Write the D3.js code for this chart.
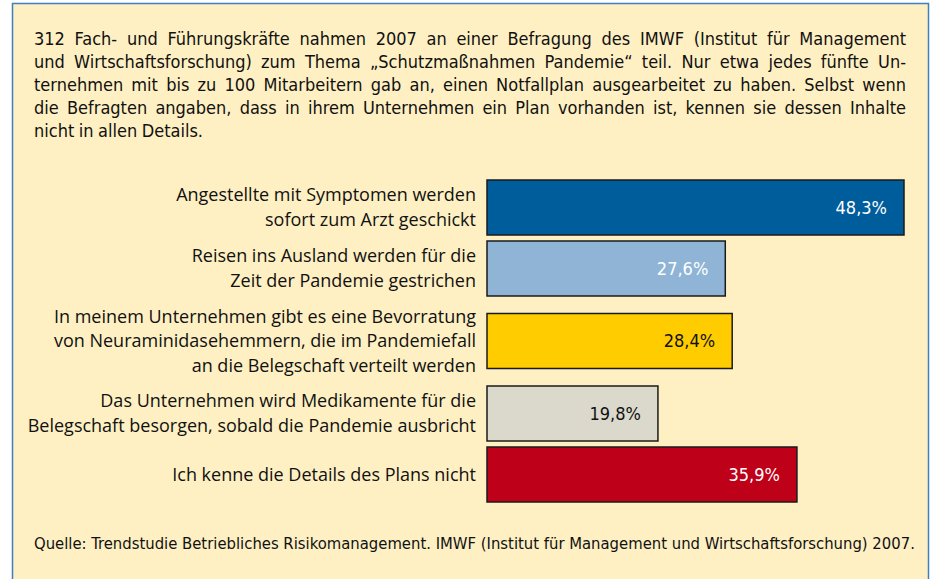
<!DOCTYPE html>
<html lang="de">
<head>
    <meta charset="UTF-8">
    <title>Schutzmaßnahmen Pandemie</title>
    <style type="text/css">
        html, body { padding:0; margin:0; background:#fff; }
    </style>
</head>
<body>
<script src="https://d3js.org/d3.v7.min.js"></script>
<script>
    // data
    var categories = [
        ['Angestellte mit Symptomen werden', 'sofort zum Arzt geschickt'],
        ['Reisen ins Ausland werden für die', 'Zeit der Pandemie gestrichen'],
        ['In meinem Unternehmen gibt es eine Bevorratung', 'von Neuraminidasehemmern, die im Pandemiefall', 'an die Belegschaft verteilt werden'],
        ['Das Unternehmen wird Medikamente für die', 'Belegschaft besorgen, sobald die Pandemie ausbricht'],
        ['Ich kenne die Details des Plans nicht']
    ];
    var values = [48.3, 27.6, 28.4, 19.8, 35.9];
    var barColors = ['#005d9c', '#8fb4d6', '#ffcc00', '#dbd9cc', '#be0018'];
    var valueColors = ['#fff', '#fff', '#111', '#111', '#fff'];

    var introLines = [
        '312 Fach- und Führungskräfte nahmen 2007 an einer Befragung des IMWF (Institut für Management',
        'und Wirtschaftsforschung) zum Thema „Schutzmaßnahmen Pandemie“ teil. Nur etwa jedes fünfte Un-',
        'ternehmen mit bis zu 100 Mitarbeitern gab an, einen Notfallplan ausgearbeitet zu haben. Selbst wenn',
        'die Befragten angaben, dass in ihrem Unternehmen ein Plan vorhanden ist, kennen sie dessen Inhalte',
        'nicht in allen Details.'
    ];
    var source = 'Quelle: Trendstudie Betriebliches Risikomanagement. IMWF (Institut für Management und Wirtschaftsforschung) 2007.';

    var chart = {};

    chart.options = {
        width: 933,
        height: 579,
        textFont: '"Liberation Sans Narrow", "DejaVu Sans Condensed", sans-serif',
        labelFont: '"Open Sans", sans-serif',
        barLeft: 487,
        barTop: 180,
        barHeight: 55,
        rowLine: 26,
        lineHeight: 24.5,
        gap: 6
    };

    chart.init = function() {
        var o = this.options;
        this.svg = d3.select('body').append('svg')
            .attr('width', o.width)
            .attr('height', o.height);

        this.svg.append('rect')
            .attr('x', 12.5).attr('y', 3.5)
            .attr('width', 916).attr('height', 600)
            .attr('fill', '#fef0c3')
            .attr('stroke', '#3f7fc0')
            .attr('stroke-width', 1.5);

        this.renderIntro();
        this.renderBars();

        this.svg.append('text')
            .attr('x', 34).attr('y', 549)
            .style('font-family', o.textFont)
            .style('font-size', '16.5px')
            .attr('fill', '#111')
            .text(source);
    };

    // justified paragraph: spread words across the full line width
    chart.renderIntro = function() {
        var o = this.options, svg = this.svg;
        var left = 34, right = 906;
        introLines.forEach(function(line, i) {
            var g = svg.append('g').attr('transform', 'translate(0,' + (45 + i * 23) + ')');
            var words = line.split(' ');
            var nodes = words.map(function(w) {
                return g.append('text')
                    .style('font-family', o.textFont)
                    .style('font-size', '18px')
                    .attr('fill', '#111')
                    .text(w);
            });
            var widths = nodes.map(function(n) { return n.node().getComputedTextLength(); });
            var total = d3.sum(widths);
            var last = i === introLines.length - 1;
            var space = last ? 4.5 : (right - left - total) / (words.length - 1);
            var x = left;
            nodes.forEach(function(n, j) {
                n.attr('x', x);
                x += widths[j] + space;
            });
        });
    };

    chart.renderBars = function() {
        var o = this.options, svg = this.svg;

        var xScale = d3.scaleLinear()
            .domain([0, 48.3])
            .range([0, 417]);

        // row heights depend on the number of label lines
        var rows = [], y = o.barTop;
        categories.forEach(function(lines, i) {
            var h = Math.max(o.barHeight, lines.length * o.rowLine);
            var center = y + h / 2;
            rows.push({ lines: lines, value: values[i], center: center, i: i });
            y = center + h / 2 + o.gap;
        });

        var row = svg.selectAll('.row')
            .data(rows)
            .enter().append('g')
            .attr('class', 'row')
            .attr('transform', function(d) { return 'translate(0,' + d.center + ')'; });

        row.append('rect')
            .attr('x', o.barLeft)
            .attr('y', -o.barHeight / 2)
            .attr('width', function(d) { return xScale(d.value); })
            .attr('height', o.barHeight)
            .attr('fill', function(d) { return barColors[d.i]; })
            .attr('stroke', '#1a1a1a')
            .attr('stroke-width', 1.5);

        row.append('text')
            .attr('x', function(d) { return o.barLeft + xScale(d.value) - 17; })
            .attr('y', 6)
            .attr('text-anchor', 'end')
            .style('font-family', o.textFont)
            .style('font-size', '18px')
            .attr('fill', function(d) { return valueColors[d.i]; })
            .text(function(d) { return d3.format('.1f')(d.value).replace('.', ',') + '%'; });

        row.each(function(d) {
            var n = d.lines.length;
            d3.select(this).selectAll('.lbl')
                .data(d.lines)
                .enter().append('text')
                .attr('class', 'lbl')
                .attr('x', 476)
                .attr('y', function(t, k) { return (k - (n - 1) / 2) * o.lineHeight + 6; })
                .attr('text-anchor', 'end')
                .style('font-family', o.labelFont)
                .style('font-size', '18px')
                .attr('fill', '#111')
                .text(function(t) { return t; });
        });
    };

    chart.init();
</script>
</body>
</html>
